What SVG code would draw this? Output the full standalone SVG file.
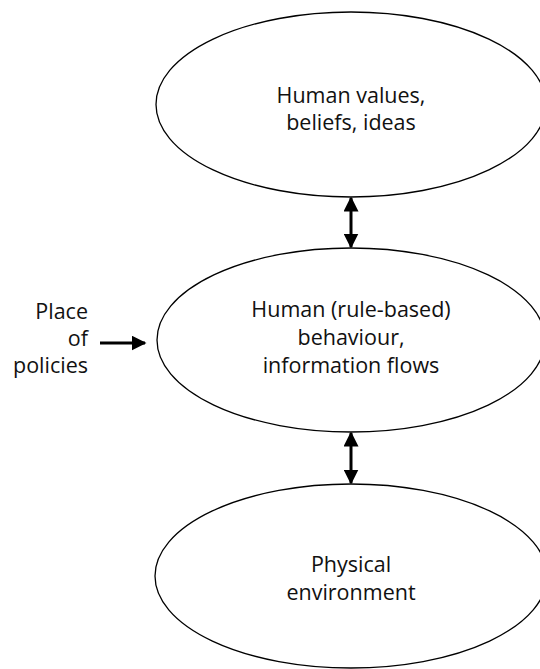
<svg xmlns="http://www.w3.org/2000/svg" width="540" height="669" viewBox="0 0 540 669">
<style>
.n ellipse{fill:#fff;stroke:#000;stroke-width:1.3}
text{font-family:"Open Sans","Liberation Sans",sans-serif;font-size:21.5px;fill:#111}
.c{text-anchor:middle}
.e{text-anchor:end}
.con line{stroke:#000;stroke-width:3}
</style>
<defs>
<marker id="ah" viewBox="0 0 10 10" refX="9" refY="5" markerWidth="5" markerHeight="5" orient="auto-start-reverse" markerUnits="strokeWidth">
<path d="M0,0 L10,5 L0,10 z" fill="#000"/>
</marker>
</defs>
<g id="n1" class="n">
<ellipse cx="351" cy="104.5" rx="195" ry="92.5"/>
<text class="c" x="351" y="103">Human values,</text>
<text class="c" x="351" y="130">beliefs, ideas</text>
</g>
<g id="n2" class="n">
<ellipse cx="351" cy="340" rx="194" ry="92"/>
<text class="c" x="351" y="317">Human (rule-based)</text>
<text class="c" x="351" y="345">behaviour,</text>
<text class="c" x="351" y="373">information flows</text>
</g>
<g id="n3" class="n">
<ellipse cx="351" cy="576" rx="196" ry="92"/>
<text class="c" x="351" y="572">Physical</text>
<text class="c" x="351" y="600">environment</text>
</g>
<g id="label">
<text class="e" x="88" y="319">Place</text>
<text class="e" x="88" y="346">of</text>
<text class="e" x="88" y="373">policies</text>
</g>
<g id="connectors" class="con">
<line x1="351" y1="198" x2="351" y2="247" marker-start="url(#ah)" marker-end="url(#ah)"/>
<line x1="351" y1="433" x2="351" y2="483" marker-start="url(#ah)" marker-end="url(#ah)"/>
<line x1="100" y1="343" x2="145" y2="343" marker-end="url(#ah)"/>
</g>
</svg>
